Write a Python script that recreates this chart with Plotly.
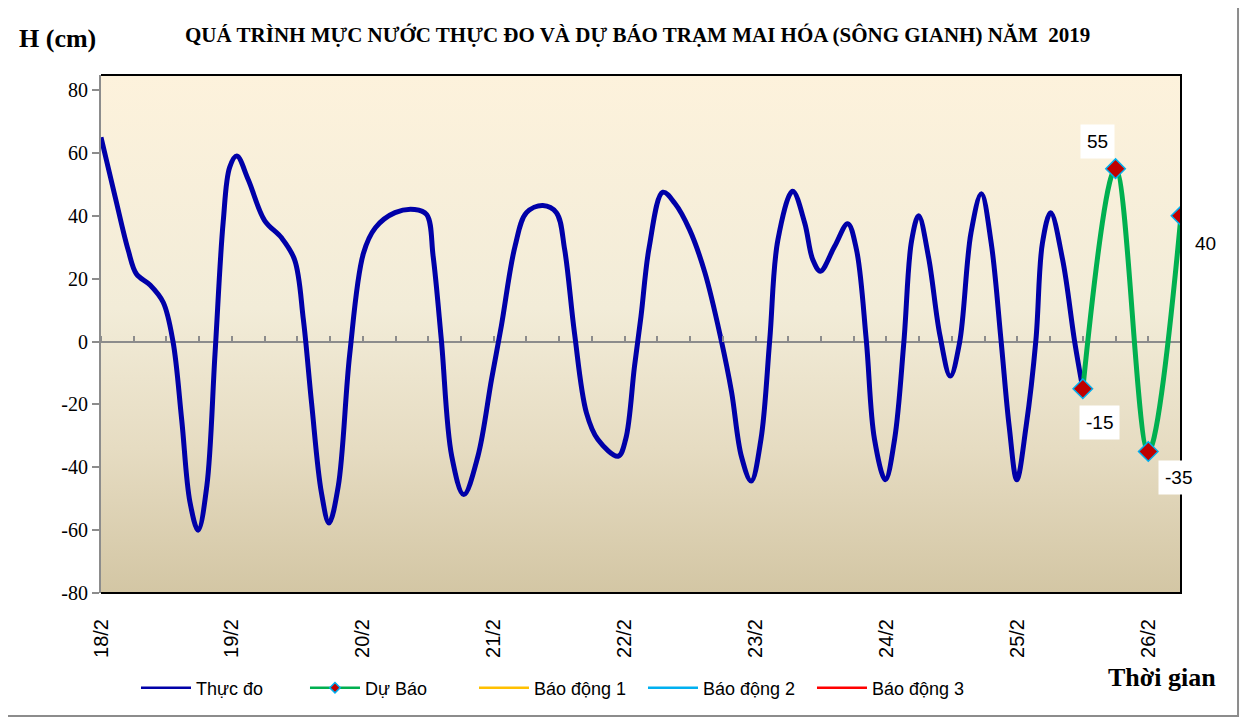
import base64
import plotly.graph_objects as go

# ── Data (hours since 18/2 00h, water level in cm) ───────────────────────────
obs_h = [0, 2.6, 5.0, 6.5, 9, 11.4, 13.2, 14.8, 16.3, 17.8, 19.4, 20.9, 22.4, 23.6,
         24.9, 27, 30, 33.1, 35.5, 37.1, 38.6, 40.4, 41.8, 43.5, 45.6, 48.1, 50.3,
         53.9, 57.5, 59.7, 60.9, 62.4, 64.3, 66.5, 69.1, 71.6, 73.4, 75.9, 78, 81,
         83.5, 85, 86.8, 89, 91.1, 94.8, 96.2, 97.8, 99.0, 100.5, 103, 105.2, 107.9,
         110.7, 113.7, 115.6, 117.4, 119.2, 121, 122.6, 124.1, 126.8, 129, 130.5,
         131.9, 134.5, 136.9, 138.5, 140.3, 141.8, 143.8, 145.5, 147.2, 148.6, 149.9,
         151.7, 153.8, 155.7, 157.4, 159.5, 161.4, 163.2, 165, 166.5, 167.9, 169.6,
         171.4, 172.6, 174.1, 176.3, 178.5, 180]
obs_v = [65, 46, 29, 21.5, 18, 12.5, 0, -25, -51, -60, -46, -4, 38, 55.5,
         59, 51.5, 38.5, 33, 26, 7, -19.5, -48, -57.7, -46, -4, 28, 36.2,
         41, 42, 40.4, 27, 0.5, -36.5, -48.7, -36.5, -12, 5, 30.3, 41, 43.3,
         41, 29.3, 2.8, -22.7, -31.2, -36.5, -31, -8, 8, 30, 47.5, 44, 35.6,
         22, 0.5, -16, -36.5, -44.4, -31, 0.5, 32.4, 47.8, 37.8, 26,
         22.4, 30.3, 37.5, 29.3, 0.5, -31, -44, -31, 0, 32, 40,
         27, 2, -11, -0.4, 34.6, 47, 31.4, 0.5, -27, -44, -27,
         0.5, 31.4, 41, 26, 0, -15]

fc_h = [180, 186, 192, 198]
fc_v = [-15, 55, -35, 40]

day_ticks = [0, 24, 48, 72, 96, 120, 144, 168, 192]
day_labels = ["18/2", "19/2", "20/2", "21/2", "22/2", "23/2", "24/2", "25/2", "26/2"]
y_ticks = [-80, -60, -40, -20, 0, 20, 40, 60, 80]
y_labels = ["-80", "-60", "-40", "-20", "0", "20", "40", "60", "80"]

Y_MIN, Y_MAX = -80, 84.8
X_MAX = 198

SERIF = "Liberation Serif, Times New Roman, serif"
SANS = "Liberation Sans, Arial, sans-serif"
GREY = "#8C8C8C"

# vertical cream -> tan gradient for the plot area (inline svg)
_svg = ('<svg xmlns="http://www.w3.org/2000/svg" width="100" height="100" '
        'preserveAspectRatio="none"><defs><linearGradient id="g" x1="0" y1="0" x2="0" y2="1">'
        '<stop offset="0" stop-color="#FDF2DC"/><stop offset="0.45" stop-color="#F2ECD8"/>'
        '<stop offset="0.72" stop-color="#E6DCC2"/><stop offset="1" stop-color="#D3C6A4"/>'
        '</linearGradient></defs><rect width="100" height="100" fill="url(#g)"/></svg>')
BG_IMG = "data:image/svg+xml;base64," + base64.b64encode(_svg.encode()).decode()

fig = go.Figure()

fig.add_trace(go.Scatter(
    x=obs_h, y=obs_v, name="Thực đo", mode="lines", showlegend=False,
    line=dict(color="#0000A8", width=5, shape="spline", smoothing=1.0),
))
fig.add_trace(go.Scatter(
    x=fc_h, y=fc_v, name="Dự Báo", mode="lines+markers", showlegend=False,
    line=dict(color="#00B050", width=5, shape="spline", smoothing=1.0),
    marker=dict(symbol="diamond", size=15, color="#C00000",
                line=dict(color="#00B0F0", width=1.5)),
))

# legend-only entries
fig.add_trace(go.Scatter(x=[None], y=[None], name="Thực đo", mode="lines",
                         line=dict(color="#0000A8", width=2.5), xaxis="x2"))
fig.add_trace(go.Scatter(
    x=[None], y=[None], name="Dự Báo", mode="lines+markers", xaxis="x2",
    line=dict(color="#00B050", width=2.5),
    marker=dict(symbol="diamond", size=8, color="#C00000",
                line=dict(color="#00B0F0", width=1.5)),
))
for name, col in [("Báo động 1", "#FFC000"), ("Báo động 2", "#00B0F0"),
                  ("Báo động 3", "#FF0000")]:
    fig.add_trace(go.Scatter(x=[None], y=[None], name=name, mode="lines",
                             line=dict(color=col, width=2.5), xaxis="x2"))

# data labels of forecast points
for h, v, dx, dy in [(180, -15, 17, -34), (186, 55, -18, 27),
                     (192, -35, 30, -26), (198, 40, 24, -28)]:
    fig.add_annotation(x=h, y=v, text=str(v), showarrow=False, xshift=dx, yshift=dy,
                       font=dict(family=SANS, size=19, color="black"),
                       bgcolor="white", borderpad=6)

fig.add_annotation(x=0.497, y=1.0772, xref="paper", yref="paper", showarrow=False,
                   xanchor="center", yanchor="middle",
                   text="<b>QUÁ TRÌNH MỰC NƯỚC THỰC ĐO VÀ DỰ BÁO TRẠM MAI HÓA (SÔNG GIANH) NĂM  2019</b>",
                   font=dict(family=SERIF, size=21, color="black"))
fig.add_annotation(x=-0.0407, y=1.0714, xref="paper", yref="paper", showarrow=False,
                   xanchor="center", yanchor="middle",
                   text="<b>H (cm)</b>", font=dict(family=SERIF, size=26, color="black"))
fig.add_annotation(x=0.982, y=-0.164, xref="paper", yref="paper", showarrow=False,
                   xanchor="center", yanchor="middle",
                   text="<b>Thời gian</b>", font=dict(family=SERIF, size=26, color="black"))

# plot-area border (top, right, bottom) and outer chart border
fig.add_shape(type="path", xref="paper", yref="paper", path="M 0,1 L 1,1 L 1,0 L 0,0",
              line=dict(color="black", width=2), layer="above")
fig.add_shape(type="rect", xref="paper", yref="paper",
              x0=-0.0907, x1=1.0528, y0=-0.2375, y1=1.1332,
              line=dict(color=GREY, width=2))

fig.add_layout_image(source=BG_IMG, xref="paper", yref="paper", x=0, y=1,
                     sizex=1, sizey=1, sizing="stretch", xanchor="left", yanchor="top",
                     layer="below")

# page body adds 8px, so margins are shifted to keep the plot area in place
fig.update_layout(
    width=1248, height=720,
    margin=dict(l=93, r=75, t=67, b=135),
    paper_bgcolor="white", plot_bgcolor="rgba(0,0,0,0)",
    hovermode=False,
    xaxis=dict(range=[0, X_MAX], tickvals=day_ticks, ticktext=day_labels,
               tickangle=-90, ticks="outside", ticklen=17, tickcolor="rgba(0,0,0,0)",
               tickfont=dict(family=SANS, size=20, color="black"),
               showgrid=False, zeroline=False, showline=False),
    xaxis2=dict(range=[0, X_MAX], overlaying="x", anchor="free",
                position=(0 - Y_MIN) / (Y_MAX - Y_MIN), side="top",
                tick0=0, dtick=6, ticks="outside", ticklen=6, tickwidth=1.5,
                tickcolor=GREY, showticklabels=False,
                showgrid=False, zeroline=False, showline=False),
    yaxis=dict(range=[Y_MIN, Y_MAX], tickvals=y_ticks, ticktext=y_labels,
               ticks="outside", ticklen=7, tickwidth=1.5, tickcolor=GREY,
               tickfont=dict(family=SERIF, size=20, color="black"),
               showgrid=False, zeroline=True, zerolinecolor=GREY, zerolinewidth=2,
               showline=True, linecolor=GREY, linewidth=2),
    legend=dict(orientation="h", x=0.0324, xanchor="left", y=-0.1834, yanchor="middle",
                font=dict(family=SANS, size=18, color="black"),
                itemwidth=50, entrywidth=104, bgcolor="rgba(0,0,0,0)"),
)

fig.write_html("out.html")
